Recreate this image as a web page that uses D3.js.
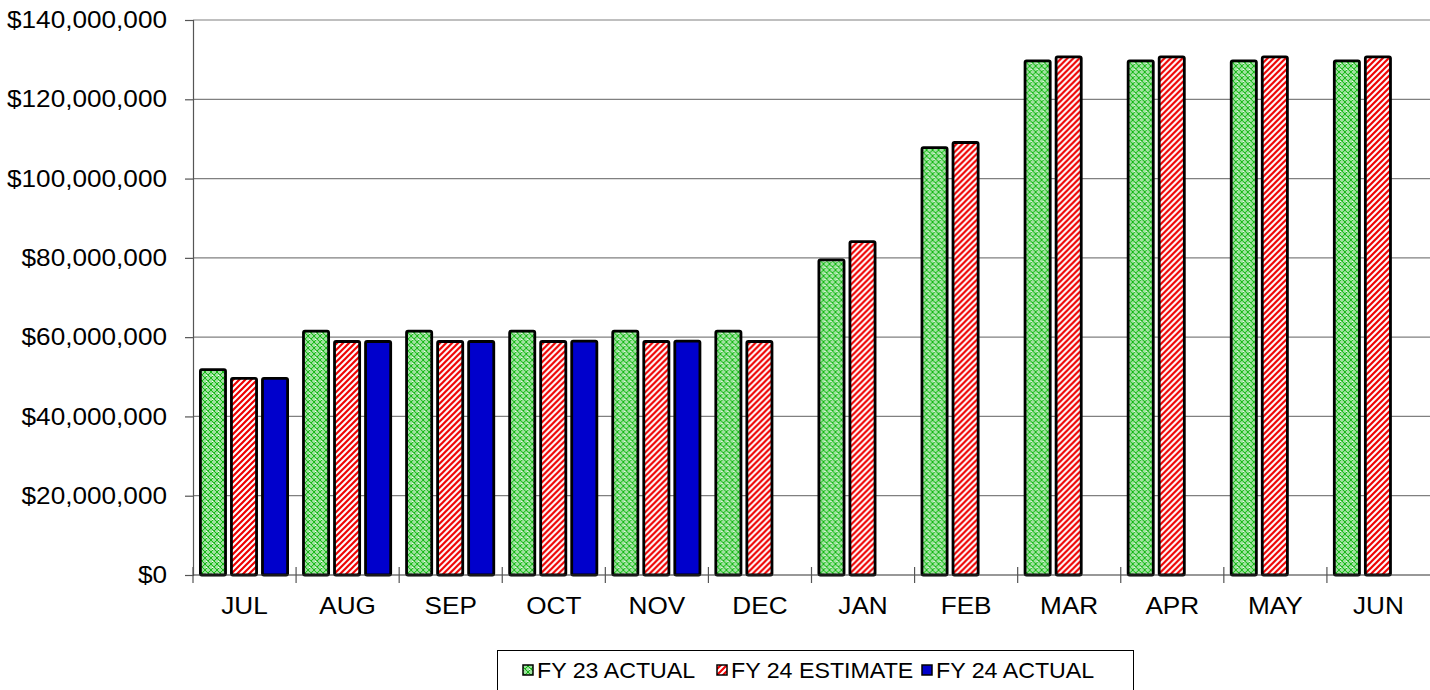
<!DOCTYPE html>
<html>
<head>
<meta charset="utf-8">
<script src="https://cdn.jsdelivr.net/npm/d3@7"></script>
<style>
  html, body { margin: 0; padding: 0; background: #fff; }
  svg { display: block; font-family: "Liberation Sans", Arial, sans-serif; }
</style>
</head>
<body>
<svg id="chart" width="1430" height="690"></svg>
<script>
const months = ["JUL","AUG","SEP","OCT","NOV","DEC","JAN","FEB","MAR","APR","MAY","JUN"];
const seriesNames = ["FY 23 ACTUAL","FY 24 ESTIMATE","FY 24 ACTUAL"];
const fy23Actual   = [51.8, 61.5, 61.5, 61.5, 61.5, 61.5, 79.5, 107.8, 129.7, 129.7, 129.7, 129.7].map(v => v * 1e6);
const fy24Estimate = [49.6, 58.9, 58.9, 58.9, 58.9, 58.9, 84.1, 109.1, 130.7, 130.7, 130.7, 130.7].map(v => v * 1e6);
const fy24Actual   = [49.6, 58.9, 58.9, 59.0, 59.0, null, null, null, null, null, null, null].map(v => v == null ? null : v * 1e6);
const yTicks = [0, 20e6, 40e6, 60e6, 80e6, 100e6, 120e6, 140e6];

const seriesValues = [fy23Actual, fy24Estimate, fy24Actual];
const fills = ["url(#pGreen)", "url(#pRed)", "#0000cc"];

const svg = d3.select("#chart");
const mLeft = 193, mRight = 1430, mTop = 20, mBottom = 575;

// patterns
const defs = svg.append("defs");
const pg = defs.append("pattern").attr("id","pGreen").attr("patternUnits","userSpaceOnUse")
  .attr("width",6).attr("height",6);
pg.append("rect").attr("width",6).attr("height",6).attr("fill","#ffffff");
pg.append("path").attr("d","M0,0 L6,6 M6,0 L0,6 M-1,5 L1,7 M5,-1 L7,1 M-1,1 L1,-1 M5,7 L7,5")
  .attr("stroke","#14b814").attr("stroke-width",1.3);
pg.append("path").attr("d","M3,0 L3,1 M0,3 L1,3 M5,3 L6,3 M3,5 L3,6")
  .attr("stroke","#14b814").attr("stroke-width",0.8);
const pr = defs.append("pattern").attr("id","pRed").attr("patternUnits","userSpaceOnUse")
  .attr("width",6).attr("height",6);
pr.append("rect").attr("width",6).attr("height",6).attr("fill","#ffffff");
pr.append("path").attr("d","M-1,1 L1,-1 M0,6 L6,0 M5,7 L7,5")
  .attr("stroke","#ee0000").attr("stroke-width",2.2);

const x0 = d3.scaleBand().domain(months).range([mLeft, mRight]).padding(0);
const x1 = d3.scaleBand().domain(seriesNames).range([6, 96]).paddingInner(0.1);
const y = d3.scaleLinear().domain([0, 140e6]).range([mBottom, mTop]);

function stretch(sel, k) {
  sel.each(function() {
    const len = this.getComputedTextLength();
    d3.select(this).attr("textLength", len * k).attr("lengthAdjust", "spacingAndGlyphs");
  });
}

// gridlines
svg.append("g").selectAll("line").data(yTicks.filter(t => t > 0)).join("line")
  .attr("x1", mLeft).attr("x2", mRight)
  .attr("y1", d => y(d)).attr("y2", d => y(d))
  .attr("stroke", "#808080").attr("stroke-width", 1.2);

// y axis
const yAxis = svg.append("g").attr("transform", `translate(${mLeft},0)`)
  .call(d3.axisLeft(y).tickValues(yTicks).tickFormat(d3.format("$,.0f")).tickSize(8).tickPadding(18));
yAxis.select(".domain").attr("stroke", "#555").attr("stroke-width", 1.2);
yAxis.selectAll(".tick line").attr("stroke", "#555").attr("stroke-width", 1.2);
yAxis.selectAll("text").attr("font-size", 24).attr("fill", "#000")
  .attr("font-family", "'Liberation Sans', Arial, sans-serif");
stretch(yAxis.selectAll("text"), 1.09);

// bars
const groups = svg.append("g").selectAll("g").data(months).join("g")
  .attr("transform", d => `translate(${x0(d)},0)`);
const sw = 2.8;
groups.each(function(m, i) {
  const g = d3.select(this);
  seriesNames.forEach((s, j) => {
    const v = seriesValues[j][i];
    if (v == null) return;
    g.append("rect")
      .attr("x", x1(s) + sw / 2)
      .attr("width", x1.bandwidth() - sw)
      .attr("y", y(v))
      .attr("height", y(0) - y(v))
      .attr("rx", 1.5)
      .attr("fill", fills[j])
      .attr("stroke", "#000")
      .attr("stroke-width", sw);
  });
});

// x axis
const xAxisG = svg.append("g");
xAxisG.append("line").attr("x1", mLeft).attr("x2", mRight).attr("y1", y(0)).attr("y2", y(0))
  .attr("stroke", "#333").attr("stroke-width", 1.2);
xAxisG.selectAll("line.tk").data(months).join("line").attr("class","tk")
  .attr("x1", d => x0(d)).attr("x2", d => x0(d))
  .attr("y1", y(0) - 8).attr("y2", y(0) + 8)
  .attr("stroke", "#555").attr("stroke-width", 1.2);
const xt = xAxisG.selectAll("text").data(months).join("text")
  .attr("x", d => x0(d) + x0.bandwidth() / 2)
  .attr("y", 614)
  .attr("text-anchor", "middle")
  .attr("font-size", 24)
  .text(d => d);
stretch(xt, 1.09);

// legend
const lg = svg.append("g");
lg.append("rect").attr("x", 497.5).attr("y", 650.5).attr("width", 636).attr("height", 50)
  .attr("fill", "#fff").attr("stroke", "#000").attr("stroke-width", 1);
const legendX = [523, 717, 922];
seriesNames.forEach((s, j) => {
  lg.append("rect").attr("x", legendX[j]).attr("y", 665).attr("width", 10).attr("height", 10)
    .attr("fill", fills[j]).attr("stroke", "#000").attr("stroke-width", 1.5);
  const t = lg.append("text").attr("x", legendX[j] + 14).attr("y", 678)
    .attr("font-size", 22).text(s);
  stretch(t, 1.055);
});
</script>
</body>
</html>
